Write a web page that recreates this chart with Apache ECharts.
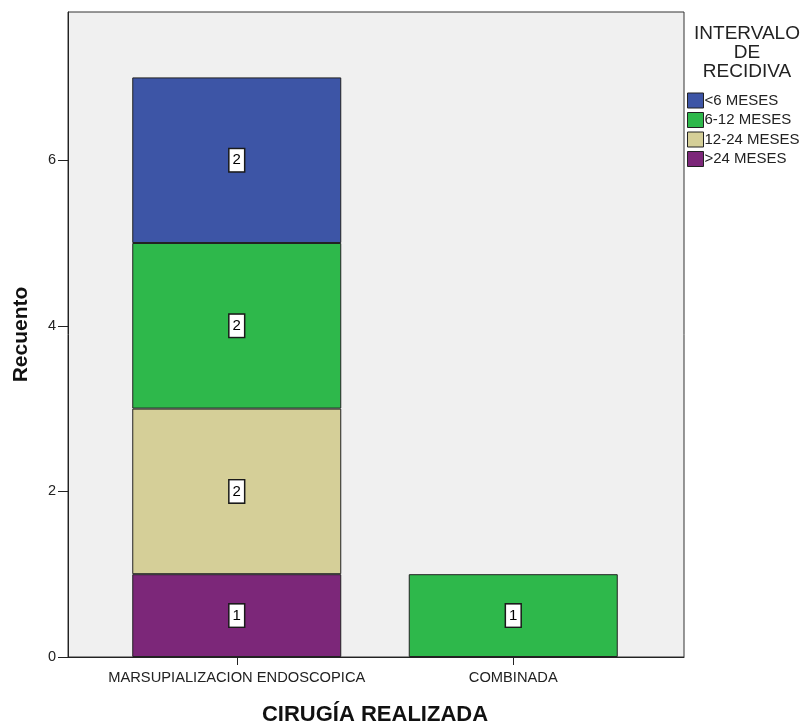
<!DOCTYPE html>
<html>
<head>
<meta charset="utf-8">
<script src="https://cdn.jsdelivr.net/npm/echarts@6/dist/echarts.min.js"></script>
<style>
  html, body { margin: 0; padding: 0; background: #fff; }
  #chart { width: 809px; height: 725px; }
</style>
</head>
<body>
<div id="chart"></div>
<script>
// categorias del eje X
const categories = ['MARSUPIALIZACION ENDOSCOPICA', 'COMBINADA'];
const seriesNames = ['<6 MESES', '6-12 MESES', '12-24 MESES', '>24 MESES'];
// recuentos por intervalo de recidiva
const menos6 = [2, null];
const de6a12 = [2, 1];
const de12a24 = [2, null];
const mas24 = [1, null];

const colors = {
  '<6 MESES': '#3d55a6',
  '6-12 MESES': '#2eb84b',
  '12-24 MESES': '#d5cf98',
  '>24 MESES': '#7c2779',
};

const font = 'Liberation Sans, Arial, sans-serif';
const yMax = 7.79;

function makeSeries(name, values) {
  return {
    name: name,
    type: 'bar',
    stack: 'total',
    xAxisIndex: 1,
    yAxisIndex: 1,
    barWidth: 209,
    data: values,
    itemStyle: { color: colors[name], borderColor: '#222', borderWidth: 1 },
    label: {
      show: true,
      position: 'inside',
      color: '#000',
      fontFamily: font,
      fontSize: 15,
      backgroundColor: '#fff',
      borderColor: '#1a1a1a',
      borderWidth: 1.5,
      padding: [4, 3, 3, 3],
    },
  };
}

const chart = echarts.init(document.getElementById('chart'));

const option = {
  animation: false,
  textStyle: { fontFamily: font },
  title: {
    text: 'INTERVALO\nDE\nRECIDIVA',
    left: 747,
    top: 24,
    padding: 0,
    textAlign: 'center',
    textStyle: { fontFamily: font, fontSize: 19, fontWeight: 'normal', color: '#222', lineHeight: 19 },
  },
  legend: {
    orient: 'vertical',
    left: 687,
    top: 92.5,
    padding: 0,
    data: seriesNames,
    icon: 'rect',
    itemWidth: 16,
    itemHeight: 15,
    itemGap: 3.5,
    itemStyle: { borderColor: '#222', borderWidth: 1 },
    textStyle: { fontFamily: font, fontSize: 15, lineHeight: 15, color: '#222', padding: [0, 0, 0, -4] },
  },
  grid: [
    {
      // caja gris del grafico
      left: 68,
      top: 12,
      right: 125,
      bottom: 68,
      outerBoundsMode: 'none',
      show: true,
      backgroundColor: '#f0f0f0',
      borderColor: '#333',
      borderWidth: 1,
    },
    {
      // zona de las categorias
      left: 98.5,
      top: 12,
      right: 157.5,
      bottom: 68,
      outerBoundsMode: 'none',
    },
  ],
  xAxis: [
    {
      gridIndex: 0,
      type: 'value',
      min: 0,
      max: 1,
      splitLine: { show: false },
      axisLine: { show: true, lineStyle: { color: '#222' } },
      axisTick: { show: false },
      axisLabel: { show: false },
    },
    {
      gridIndex: 1,
      type: 'category',
      data: categories,
      name: 'CIRUGÍA REALIZADA',
      nameLocation: 'middle',
      nameGap: 47,
      nameTextStyle: { fontFamily: font, fontSize: 22, fontWeight: 'bold', color: '#111' },
      axisLine: { show: false },
      axisTick: { show: true, alignWithLabel: true, length: 8, lineStyle: { color: '#222' } },
      axisLabel: { margin: 13, fontSize: 14.7, color: '#222', interval: 0 },
    },
  ],
  yAxis: [
    {
      gridIndex: 0,
      type: 'value',
      min: 0,
      max: yMax,
      interval: 2,
      name: 'Recuento',
      nameLocation: 'middle',
      nameRotate: 90,
      nameGap: 36,
      nameTextStyle: { fontFamily: font, fontSize: 21, fontWeight: 'bold', color: '#111' },
      splitLine: { show: false },
      axisLine: { show: true, onZero: false, lineStyle: { color: '#222' } },
      axisTick: { show: true, length: 10, lineStyle: { color: '#222' } },
      axisLabel: { margin: 12, fontSize: 14.5, color: '#222', showMaxLabel: false },
    },
    {
      gridIndex: 1,
      type: 'value',
      min: 0,
      max: yMax,
      show: false,
    },
  ],
  series: [
    makeSeries('>24 MESES', mas24),
    makeSeries('12-24 MESES', de12a24),
    makeSeries('6-12 MESES', de6a12),
    makeSeries('<6 MESES', menos6),
  ],
};

chart.setOption(option);
</script>
</body>
</html>
